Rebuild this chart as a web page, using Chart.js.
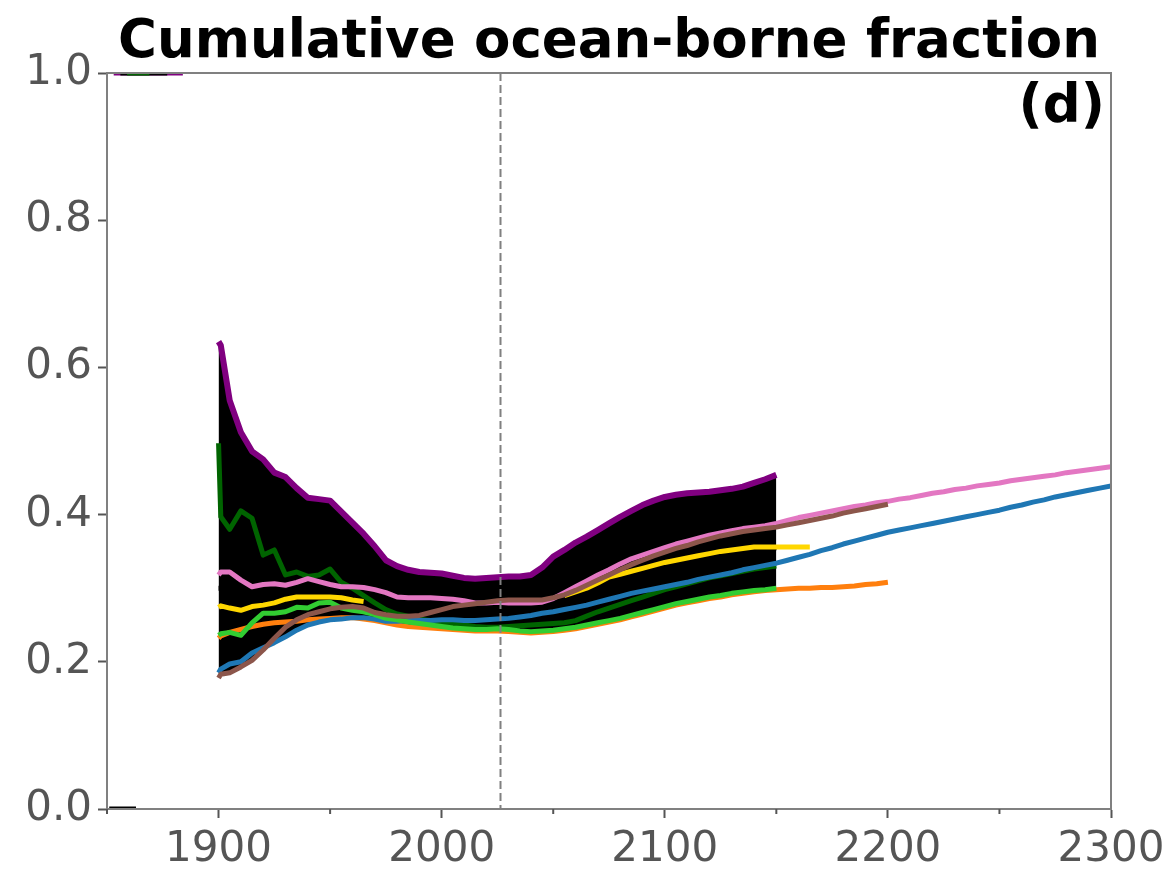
<!DOCTYPE html>
<html>
<head>
<meta charset="utf-8">
<script src="https://cdn.jsdelivr.net/npm/chart.js@4.4.1/dist/chart.umd.min.js"></script>
<style>
  html, body { margin: 0; padding: 0; background: #fff; }
  #wrap { width: 1176px; height: 878px; }
</style>
</head>
<body>
<div id="wrap"><canvas id="chart" width="1176" height="878"></canvas></div>
<script>
// x positions shared by all model series (1900, 1901, then every 5 years)
const years = [1900, 1901,
  1905, 1910, 1915, 1920, 1925, 1930, 1935, 1940, 1945, 1950,
  1955, 1960, 1965, 1970, 1975, 1980, 1985, 1990, 1995, 2000,
  2005, 2010, 2015, 2020, 2025, 2030, 2035, 2040, 2045, 2050,
  2055, 2060, 2065, 2070, 2075, 2080, 2085, 2090, 2095, 2100,
  2105, 2110, 2115, 2120, 2125, 2130, 2135, 2140, 2145, 2150,
  2155, 2160, 2165, 2170, 2175, 2180, 2185, 2190, 2195, 2200,
  2205, 2210, 2215, 2220, 2225, 2230, 2235, 2240, 2245, 2250,
  2255, 2260, 2265, 2270, 2275, 2280, 2285, 2290, 2295, 2300];

const purpleVals = [0.635, 0.630,
  0.555, 0.512, 0.486, 0.475, 0.457, 0.451, 0.436, 0.423, 0.421, 0.419,
  0.404, 0.389, 0.374, 0.357, 0.338, 0.330, 0.325, 0.322, 0.321, 0.320,
  0.317, 0.314, 0.313, 0.314, 0.315, 0.316, 0.316, 0.318, 0.328, 0.343,
  0.352, 0.362, 0.370, 0.379, 0.388, 0.397, 0.405, 0.413, 0.419, 0.424,
  0.427, 0.429, 0.430, 0.431, 0.433, 0.435, 0.438, 0.443, 0.448, 0.454];

const darkGreenVals = [0.497, 0.397,
  0.380, 0.405, 0.395, 0.345, 0.352, 0.318, 0.322, 0.316, 0.318, 0.326,
  0.308, 0.300, 0.290, 0.280, 0.271, 0.265, 0.262, 0.258, 0.256, 0.254,
  0.252, 0.250, 0.248, 0.247, 0.247, 0.248, 0.249, 0.250, 0.251, 0.252,
  0.253, 0.256, 0.262, 0.268, 0.273, 0.278, 0.283, 0.288, 0.293, 0.298,
  0.302, 0.306, 0.310, 0.314, 0.317, 0.320, 0.323, 0.326, 0.328, 0.330];

const pinkVals = [0.318, 0.322,
  0.322, 0.311, 0.302, 0.305, 0.306, 0.304, 0.308, 0.313, 0.309, 0.305,
  0.302, 0.302, 0.301, 0.298, 0.294, 0.288, 0.287, 0.287, 0.287, 0.286,
  0.285, 0.283, 0.280, 0.280, 0.281, 0.280, 0.280, 0.280, 0.281, 0.286,
  0.294, 0.302, 0.310, 0.318, 0.325, 0.333, 0.340, 0.345, 0.350, 0.355,
  0.360, 0.364, 0.368, 0.372, 0.375, 0.378, 0.381, 0.383, 0.385, 0.388,
  0.392, 0.396, 0.399, 0.402, 0.405, 0.408, 0.411, 0.413, 0.416, 0.418,
  0.421, 0.423, 0.426, 0.429, 0.431, 0.434, 0.436, 0.439, 0.441, 0.443,
  0.446, 0.448, 0.450, 0.452, 0.454, 0.457, 0.459, 0.461, 0.463, 0.465];

const brownVals = [0.178, 0.183,
  0.185, 0.193, 0.202, 0.216, 0.232, 0.247, 0.257, 0.264, 0.268, 0.272,
  0.274, 0.275, 0.273, 0.267, 0.264, 0.262, 0.262, 0.263, 0.267, 0.271,
  0.275, 0.277, 0.279, 0.281, 0.283, 0.284, 0.284, 0.284, 0.284, 0.287,
  0.291, 0.297, 0.304, 0.311, 0.318, 0.325, 0.332, 0.338, 0.344, 0.349,
  0.354, 0.358, 0.363, 0.367, 0.371, 0.374, 0.377, 0.379, 0.381, 0.383,
  0.386, 0.389, 0.392, 0.395, 0.398, 0.402, 0.405, 0.408, 0.411, 0.414];

const yellowVals = [0.274, 0.276,
  0.273, 0.270, 0.275, 0.277, 0.280, 0.285, 0.288, 0.288, 0.288, 0.288,
  0.287, 0.284, 0.282, null, null, null, null, null, null, null,
  null, null, null, null, null, null, null, null, null, null,
  0.290, 0.295, 0.300, 0.307, 0.315, 0.319, 0.323, 0.327, 0.331, 0.335,
  0.338, 0.341, 0.344, 0.347, 0.350, 0.352, 0.354, 0.356, 0.356, 0.356,
  0.356, 0.356, 0.356];

const limeVals = [0.236, 0.238,
  0.240, 0.236, 0.253, 0.266, 0.266, 0.268, 0.274, 0.273, 0.280, 0.281,
  0.273, 0.270, 0.268, 0.264, 0.259, 0.257, 0.254, 0.252, 0.250, 0.248,
  0.246, 0.245, 0.244, 0.244, 0.245, 0.244, 0.242, 0.241, 0.242, 0.243,
  0.245, 0.247, 0.250, 0.253, 0.256, 0.259, 0.263, 0.267, 0.271, 0.275,
  0.279, 0.282, 0.285, 0.288, 0.290, 0.293, 0.295, 0.297, 0.298, 0.300];

const orangeVals = [0.232, 0.235,
  0.240, 0.244, 0.248, 0.251, 0.253, 0.254, 0.255, 0.257, 0.258, 0.259,
  0.260, 0.260, 0.258, 0.256, 0.253, 0.250, 0.248, 0.247, 0.246, 0.245,
  0.244, 0.243, 0.242, 0.242, 0.242, 0.241, 0.240, 0.239, 0.240, 0.241,
  0.243, 0.245, 0.248, 0.251, 0.254, 0.257, 0.261, 0.265, 0.269, 0.273,
  0.277, 0.280, 0.283, 0.286, 0.288, 0.291, 0.293, 0.295, 0.297, 0.298,
  0.299, 0.300, 0.300, 0.301, 0.301, 0.302, 0.303, 0.305, 0.306, 0.308];

const blueVals = [0.185, 0.190,
  0.197, 0.200, 0.212, 0.219, 0.226, 0.234, 0.243, 0.250, 0.254, 0.257,
  0.258, 0.260, 0.260, 0.258, 0.255, 0.255, 0.256, 0.256, 0.256, 0.257,
  0.257, 0.256, 0.256, 0.257, 0.258, 0.259, 0.261, 0.263, 0.266, 0.268,
  0.271, 0.274, 0.277, 0.281, 0.285, 0.289, 0.293, 0.296, 0.299, 0.302,
  0.305, 0.308, 0.312, 0.315, 0.318, 0.321, 0.325, 0.328, 0.331, 0.334,
  0.338, 0.342, 0.346, 0.351, 0.355, 0.360, 0.364, 0.368, 0.372, 0.376,
  0.379, 0.382, 0.385, 0.388, 0.391, 0.394, 0.397, 0.400, 0.403, 0.406,
  0.410, 0.413, 0.417, 0.420, 0.424, 0.427, 0.430, 0.433, 0.436, 0.439];

const blackVals = [0.300, 0.300,
  0.295, 0.290, 0.290, 0.288, 0.287, 0.288, 0.290, 0.290, 0.289, 0.288,
  0.287, 0.286, 0.283, 0.280, 0.277, 0.275, 0.274, 0.273, 0.272, 0.272,
  0.271, 0.270, 0.270, 0.269, 0.269, 0.270, 0.271, 0.273, 0.276, 0.280,
  0.285, 0.290, 0.295, 0.300, 0.305, 0.310, 0.314, 0.318, 0.322, 0.326,
  0.330, 0.333, 0.336, 0.339, 0.342, 0.345, 0.348, 0.351, 0.353, 0.355];

// short early segments pinned to the axis limits
const earlyTopYears = [1853, 1884];
const earlyTopVals = [1.0, 1.0];
const earlyTopBlackYears = [1856, 1877];
const earlyTopGreenYears = [1859, 1869];
const earlyBottomYears = [1851, 1863];
const earlyBottomVals = [0.0, 0.0];

const dividerYear = 2026;
const yTicks = [0, 0.2, 0.4, 0.6, 0.8, 1.0];
const xMajorTicks = [1900, 2000, 2100, 2200, 2300];
const xMinorTicks = [1850, 1950, 2050, 2150, 2250];

function pts(xs, ys) {
  return ys.map((y, i) => ({ x: xs[i], y: y }));
}

// ensemble envelope over the common 1900-2150 period
const modelSeries = [purpleVals, darkGreenVals, pinkVals, brownVals, yellowVals,
  limeVals, orangeVals, blueVals, blackVals];
const envYears = years.slice(0, purpleVals.length);
const envMax = envYears.map((_, i) => Math.max(...modelSeries.map(s => s[i]).filter(v => v != null)));
const envMin = envYears.map((_, i) => Math.min(...modelSeries.map(s => s[i]).filter(v => v != null)));

function line(label, color, data, width) {
  return {
    label: label,
    data: data,
    borderColor: color,
    backgroundColor: color,
    borderWidth: width == null ? 5 : width,
    pointRadius: 0,
    fill: false,
    tension: 0,
    spanGaps: false,
    borderJoinStyle: 'round'
  };
}

// index 0 is drawn on top
const datasets = [
  line('purple', '#800080', pts(years, purpleVals), 6),
  line('brown', '#8c564b', pts(years, brownVals)),
  line('pink', '#e377c2', pts(years, pinkVals)),
  line('lime', '#32cd32', pts(years, limeVals)),
  line('blue', '#1f77b4', pts(years, blueVals)),
  line('darkgreen', '#006400', pts(years, darkGreenVals)),
  line('orange', '#ff7f0e', pts(years, orangeVals)),
  line('yellow', '#ffd700', pts(years, yellowVals)),
  line('black', '#000000', pts(years, blackVals)),
  line('early top green', '#006400', pts(earlyTopGreenYears, earlyTopVals)),
  line('early top black', '#000000', pts(earlyTopBlackYears, earlyTopVals)),
  line('early top', '#800080', pts(earlyTopYears, earlyTopVals)),
  line('early bottom', '#000000', pts(earlyBottomYears, earlyBottomVals)),
  Object.assign(line('envelope max', '#000000', pts(envYears, envMax), 0), { fill: '+1', backgroundColor: '#000000' }),
  line('envelope min', '#000000', pts(envYears, envMin), 0)
];

const tickFont = { family: 'DejaVu Sans', size: 42 };

const decorations = {
  id: 'decorations',
  afterDatasetsDraw(chart) {
    const ctx = chart.ctx;
    const a = chart.chartArea;
    const xs = chart.scales.x;
    ctx.save();
    // dashed divider
    const dx = Math.round(xs.getPixelForValue(dividerYear)) + 0.5;
    ctx.strokeStyle = '#808080';
    ctx.lineWidth = 2;
    ctx.setLineDash([8, 4]);
    ctx.beginPath();
    ctx.moveTo(dx, a.top);
    ctx.lineTo(dx, a.bottom);
    ctx.stroke();
    ctx.restore();
  },
  afterDraw(chart) {
    const ctx = chart.ctx;
    const a = chart.chartArea;
    const xs = chart.scales.x;
    ctx.save();
    // frame
    ctx.strokeStyle = '#808080';
    ctx.lineWidth = 2;
    ctx.strokeRect(a.left, a.top, a.right - a.left, a.bottom - a.top);
    // minor x ticks
    ctx.strokeStyle = '#555555';
    xMinorTicks.forEach(v => {
      const px = xs.getPixelForValue(v);
      ctx.beginPath();
      ctx.moveTo(px, a.bottom);
      ctx.lineTo(px, a.bottom + 5);
      ctx.stroke();
    });
    // title and panel letter
    ctx.fillStyle = '#000000';
    ctx.font = 'bold 53px "DejaVu Sans"';
    ctx.textAlign = 'center';
    ctx.textBaseline = 'alphabetic';
    ctx.fillText('Cumulative ocean-borne fraction', (a.left + a.right) / 2, 57);
    ctx.textAlign = 'right';
    ctx.fillText('(d)', a.right - 6, 122);
    ctx.restore();
  }
};

new Chart(document.getElementById('chart'), {
  type: 'line',
  data: { datasets: datasets },
  options: {
    responsive: false,
    devicePixelRatio: 1,
    animation: false,
    events: [],
    layout: { padding: { top: 73, right: 65, left: 0, bottom: 0 } },
    plugins: {
      legend: { display: false },
      tooltip: { enabled: false },
      title: { display: false }
    },
    scales: {
      x: {
        type: 'linear',
        min: 1850,
        max: 2300,
        afterBuildTicks: s => { s.ticks = xMajorTicks.map(v => ({ value: v })); },
        afterFit: s => { s.height = 69; },
        ticks: {
          autoSkip: false,
          maxRotation: 0,
          padding: 7,
          color: '#555555',
          font: tickFont,
          callback: v => String(v)
        },
        grid: { drawOnChartArea: false, tickLength: 9, tickColor: '#555555', tickWidth: 2 },
        border: { display: true, color: '#808080', width: 2 }
      },
      y: {
        min: 0,
        max: 1,
        afterBuildTicks: s => { s.ticks = yTicks.map(v => ({ value: v })); },
        afterFit: s => { s.width = 107; },
        ticks: {
          padding: 6,
          color: '#555555',
          font: tickFont,
          callback: v => v.toFixed(1)
        },
        grid: { drawOnChartArea: false, tickLength: 9, tickColor: '#555555', tickWidth: 2 },
        border: { display: true, color: '#808080', width: 2 }
      }
    }
  },
  plugins: [decorations]
});
</script>
</body>
</html>
